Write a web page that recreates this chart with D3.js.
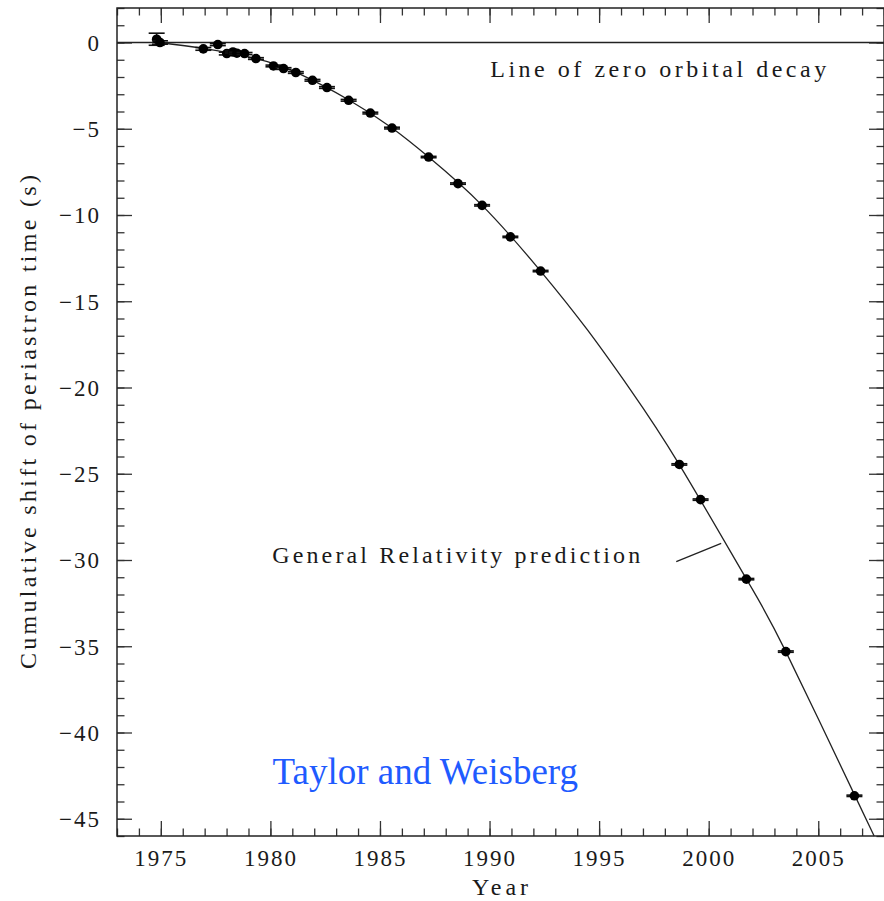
<!DOCTYPE html>
<html>
<head>
<meta charset="utf-8">
<script src="https://cdn.jsdelivr.net/npm/d3@7"></script>
<style>
  body { margin: 0; background: #fff; }
  svg text { font-family: "Liberation Serif", "DejaVu Serif", serif; fill: #1a1a1a; }
</style>
</head>
<body>
<svg class="chart" width="884" height="901"></svg>
<script>
// Measured timing points (year, shift in s, error in s)
var years  = [1974.81, 1974.96, 1976.94, 1977.60, 1978.01, 1978.29, 1978.47, 1978.82, 1979.34,
              1980.14, 1980.60, 1981.16, 1981.92, 1982.58, 1983.57, 1984.56, 1985.55, 1987.22,
              1988.56, 1989.66, 1990.95, 1992.33, 1998.66, 1999.63, 2001.72, 2003.52, 2006.65];
var shifts = [0.19, 0.0, -0.37, -0.12, -0.64, -0.55, -0.62, -0.64, -0.93,
              -1.36, -1.51, -1.74, -2.19, -2.61, -3.35, -4.09, -4.96, -6.64,
              -8.18, -9.44, -11.27, -13.25, -24.46, -26.50, -31.11, -35.31, -43.67];
var errors = [0.35, 0.10, 0.08, 0.06, 0.08, 0.06, 0.06, 0.06, 0.05,
              0.05, 0.05, 0.05, 0.05, 0.05, 0.05, 0.05, 0.05, 0.04,
              0.04, 0.04, 0.04, 0.04, 0.04, 0.04, 0.04, 0.04, 0.04];

// GR prediction curve
var curveYears  = [1974.9, 1977.0, 1979.3, 1981.2, 1983.6, 1985.55, 1987.22, 1989.66, 1992.33,
                   1994.46, 1996.44, 1998.66, 2001.72, 2003.52, 2006.65, 2007.55];
var curveShifts = [0.0, -0.36, -0.92, -1.75, -3.35, -4.96, -6.64, -9.44, -13.25,
                   -16.65, -20.15, -24.47, -31.1, -35.31, -43.6, -46.0];

// Tick values
var xMajor = [1975, 1980, 1985, 1990, 1995, 2000, 2005];
var yMajor = [0, -5, -10, -15, -20, -25, -30, -35, -40, -45];

// Annotations: text, year, shift, width
var labels = [
    {text: "Line of zero orbital decay", x: 1990.03, y: -2.0, w: 336},
    {text: "General Relativity prediction", x: 1980.08, y: -30.15, w: 368}
];
var pointer = [[1998.52, -30.09], [2000.57, -29.04]];

var svg = d3.select(".chart");
var x = d3.scaleLinear().domain([1973, 2008]).range([117, 884]);
var y = d3.scaleLinear().domain([2, -46]).range([8, 836]);

var xMinor = d3.range(1973, 2009);
var yMinor = d3.range(2, -47, -1);

function drawAxis(axis, transform) {
    var g = svg.append("g")
        .attr("transform", transform)
        .call(axis);
    g.select(".domain").remove();
    g.selectAll(".tick line").attr("stroke", "#333").attr("stroke-width", 1.3);
    return g;
}

// Minor ticks (inward) on all four sides
drawAxis(d3.axisBottom(x).tickValues(xMinor).tickSize(-7.5).tickFormat(""), "translate(0,836)");
drawAxis(d3.axisTop(x).tickValues(xMinor).tickSize(-7.5).tickFormat(""), "translate(0,8)");
drawAxis(d3.axisLeft(y).tickValues(yMinor).tickSize(-7.5).tickFormat(""), "translate(117,0)");
drawAxis(d3.axisRight(y).tickValues(yMinor).tickSize(-7.5).tickFormat(""), "translate(884,0)");

// Major ticks
var bottom = drawAxis(d3.axisBottom(x).tickValues(xMajor).tickSize(-15).tickPadding(0)
    .tickFormat(d3.format("d")), "translate(0,836)");
bottom.selectAll(".tick text")
    .attr("y", 30).attr("dy", 0)
    .style("font-size", "23px").style("letter-spacing", "2px")
    .attr("fill", "#1a1a1a");
drawAxis(d3.axisTop(x).tickValues(xMajor).tickSize(-15).tickFormat(""), "translate(0,8)");
var left = drawAxis(d3.axisLeft(y).tickValues(yMajor).tickSize(-15)
    .tickFormat(function(d) { return d === 0 ? "0" : "\u2212" + Math.abs(d); }), "translate(117,0)");
left.selectAll(".tick text")
    .attr("x", -16).attr("dy", "0.34em")
    .style("font-size", "23px").style("letter-spacing", "2px")
    .attr("fill", "#1a1a1a");
drawAxis(d3.axisRight(y).tickValues(yMajor).tickSize(-15).tickFormat(""), "translate(884,0)");

// Frame
svg.append("rect")
    .attr("x", 117).attr("y", 8)
    .attr("width", 884 - 117).attr("height", 836 - 8)
    .attr("fill", "none").attr("stroke", "#222").attr("stroke-width", 1.5);

// Zero decay line
svg.append("line")
    .attr("x1", x(1973)).attr("x2", x(2008))
    .attr("y1", y(0)).attr("y2", y(0))
    .attr("stroke", "#222").attr("stroke-width", 1.3);

// GR curve
var curveData = curveYears.map(function(d, i) { return [d, curveShifts[i]]; });
svg.append("path")
    .datum(curveData)
    .attr("fill", "none").attr("stroke", "#222").attr("stroke-width", 1.3)
    .attr("d", d3.line()
        .x(function(d) { return x(d[0]); })
        .y(function(d) { return y(d[1]); })
        .curve(d3.curveNatural));

// Data points with error bars
var points = years.map(function(d, i) { return {year: d, shift: shifts[i], err: errors[i]}; });
var pts = svg.selectAll(".pt")
    .data(points)
    .enter()
        .append("g")
        .attr("class", "pt");
pts.append("line")
    .attr("x1", function(d) { return x(d.year); })
    .attr("x2", function(d) { return x(d.year); })
    .attr("y1", function(d) { return y(d.shift + d.err); })
    .attr("y2", function(d) { return y(d.shift - d.err); })
    .attr("stroke", "#111").attr("stroke-width", 1.5);
[1, -1].forEach(function(s) {
    pts.append("line")
        .attr("x1", function(d) { return x(d.year) - 8; })
        .attr("x2", function(d) { return x(d.year) + 8; })
        .attr("y1", function(d) { return y(d.shift + s * d.err); })
        .attr("y2", function(d) { return y(d.shift + s * d.err); })
        .attr("stroke", "#111").attr("stroke-width", 1.6);
});
pts.append("circle")
    .attr("cx", function(d) { return x(d.year); })
    .attr("cy", function(d) { return y(d.shift); })
    .attr("r", 4.8)
    .attr("fill", "#000");

// Annotations
svg.selectAll(".label")
    .data(labels)
    .enter()
        .append("text")
        .attr("class", "label")
        .attr("x", function(d) { return x(d.x); })
        .attr("y", function(d) { return y(d.y); })
        .attr("textLength", function(d) { return d.w; })
        .attr("lengthAdjust", "spacing")
        .style("font-size", "24px")
        .text(function(d) { return d.text; });

svg.append("line")
    .attr("x1", x(pointer[0][0])).attr("y1", y(pointer[0][1]))
    .attr("x2", x(pointer[1][0])).attr("y2", y(pointer[1][1]))
    .attr("stroke", "#222").attr("stroke-width", 1.3);

svg.append("text")
    .attr("x", x(1980.1))
    .attr("y", y(-43.0))
    .style("font-size", "37px")
    .style("fill", "#1f5bff")
    .text("Taylor and Weisberg");

// Axis titles
svg.append("text")
    .attr("x", 472)
    .attr("y", 895)
    .attr("textLength", 56)
    .attr("lengthAdjust", "spacing")
    .style("font-size", "24px")
    .text("Year");

svg.append("text")
    .attr("transform", "translate(36," + ((8 + 836) / 2) + ") rotate(-90)")
    .attr("x", -247)
    .attr("textLength", 494)
    .attr("lengthAdjust", "spacing")
    .style("font-size", "24px")
    .text("Cumulative shift of periastron time (s)");
</script>
</body>
</html>
